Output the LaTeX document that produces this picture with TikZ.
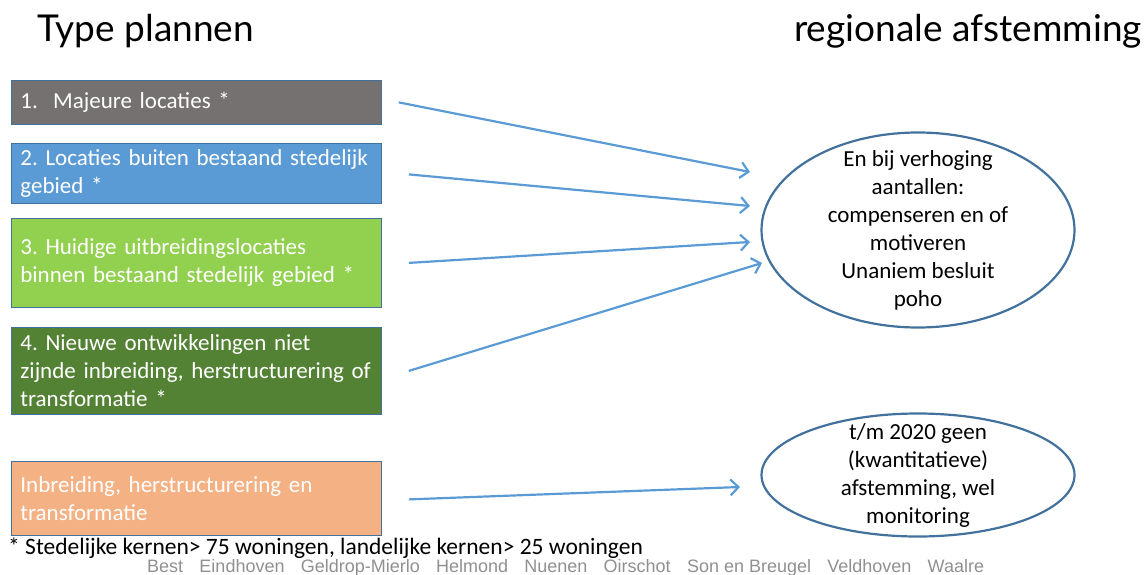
\documentclass[tikz,border=0pt]{standalone}
\usepackage{fontspec}
\setmainfont{Carlito}
\newfontfamily\titlefont{Lato}
\newfontfamily\arialfont{Liberation Sans}
\usetikzlibrary{arrows.meta,shapes.geometric,positioning}
\definecolor{cgray}{HTML}{767171}
\definecolor{cblue}{HTML}{5B9BD5}
\definecolor{cgreen}{HTML}{92D050}
\definecolor{cdgreen}{HTML}{548235}
\definecolor{corange}{HTML}{F4B183}
\definecolor{cborder}{HTML}{41719C}
\definecolor{carrow}{HTML}{5B9BD5}
\definecolor{cell}{HTML}{41719C}
\definecolor{ccity}{HTML}{909090}
\frenchspacing
\hyphenpenalty=10000
\tikzset{
  planbox/.style={rectangle, draw=cborder, line width=0.8pt, text=white,
    minimum width=370pt, text width=352pt, inner xsep=9pt, inner ysep=0pt,
    align=left, anchor=north west, font=\fontsize{23}{28}\selectfont},
  ovalbox/.style={ellipse, draw=cell, line width=2.2pt, inner sep=0pt},
  ovaltext/.style={align=center, font=\fontsize{23}{28}\selectfont, inner sep=0pt},
  conn/.style={draw=carrow, line width=2.2pt, -{Straight Barb[length=8pt,width=16pt,line width=2.2pt]}},
  titletext/.style={font=\titlefont\fontsize{37}{42}\selectfont, inner sep=0pt}
}
\begin{document}
\begin{tikzpicture}[x=1pt,y=-1pt]
\useasboundingbox (0,0) rectangle (1145,575);
% titles
\node[titletext, anchor=base west] (tl) at (37,42) {Type plannen};
\node[titletext, anchor=base east] (tr) at (1142,42) {regionale afstemming};
% boxes
\node[planbox, fill=cgray, minimum height=44pt] (b1) at (11,80) {1.\ \ Majeure locaties *};
\node[planbox, fill=cblue, minimum height=60pt] (b2) at (11,143) {2. Locaties buiten bestaand stedelijk\\gebied *};
\node[planbox, fill=cgreen, minimum height=89pt] (b3) at (11,218) {3. Huidige uitbreidingslocaties\\binnen bestaand stedelijk gebied *};
\node[planbox, fill=cdgreen, minimum height=87pt] (b4) at (11,327) {4. Nieuwe ontwikkelingen niet\\zijnde inbreiding, herstructurering of\\transformatie *};
\node[planbox, fill=corange, minimum height=74pt] (b5) at (11,461) {Inbreiding, herstructurering en\\transformatie};
% ellipses
\node[ovalbox, minimum width=313pt, minimum height=195pt] (e1) at (918,230) {};
\node[ovaltext] (e1t) at (e1.center) {En bij verhoging\\aantallen:\\compenseren en of\\motiveren\\Unaniem besluit\\poho};
\node[ovalbox, minimum width=313pt, minimum height=123pt] (e2) at (918,475) {};
\node[ovaltext] (e2t) at (e2.center) {t/m 2020 geen\\(kwantitatieve)\\afstemming, wel\\monitoring};
% arrow tips
\coordinate (t1) at (750,172);
\coordinate (t2) at (750,206);
\coordinate (t3) at (750,242);
\coordinate (t4) at (762,263);
\coordinate (t5) at (740,487);
\draw[conn] ([xshift=17pt]b1.east) -- (t1);
\draw[conn] ([xshift=27pt,yshift=-1pt]b2.east) -- (t2);
\draw[conn] ([xshift=27pt]b3.east) -- (t3);
\draw[conn] ([xshift=27pt]b4.east) -- (t4);
\draw[conn] ([xshift=27pt,yshift=-1pt]b5.east) -- (t5);
% footnote
\node[anchor=west, inner sep=0pt, font=\fontsize{23.5}{26}\selectfont] (fn) at (8,548) {* Stedelijke kernen> 75 woningen, landelijke kernen> 25 woningen};
\node[anchor=base west, inner sep=0pt, text=ccity, font=\arialfont\fontsize{18}{20}\selectfont] (cities) at (147,572)
  {\makebox[837pt][l]{Best\hfill Eindhoven\hfill Geldrop-Mierlo\hfill Helmond\hfill Nuenen\hfill Oirschot\hfill Son en Breugel\hfill Veldhoven\hfill Waalre}};
\end{tikzpicture}
\end{document}
